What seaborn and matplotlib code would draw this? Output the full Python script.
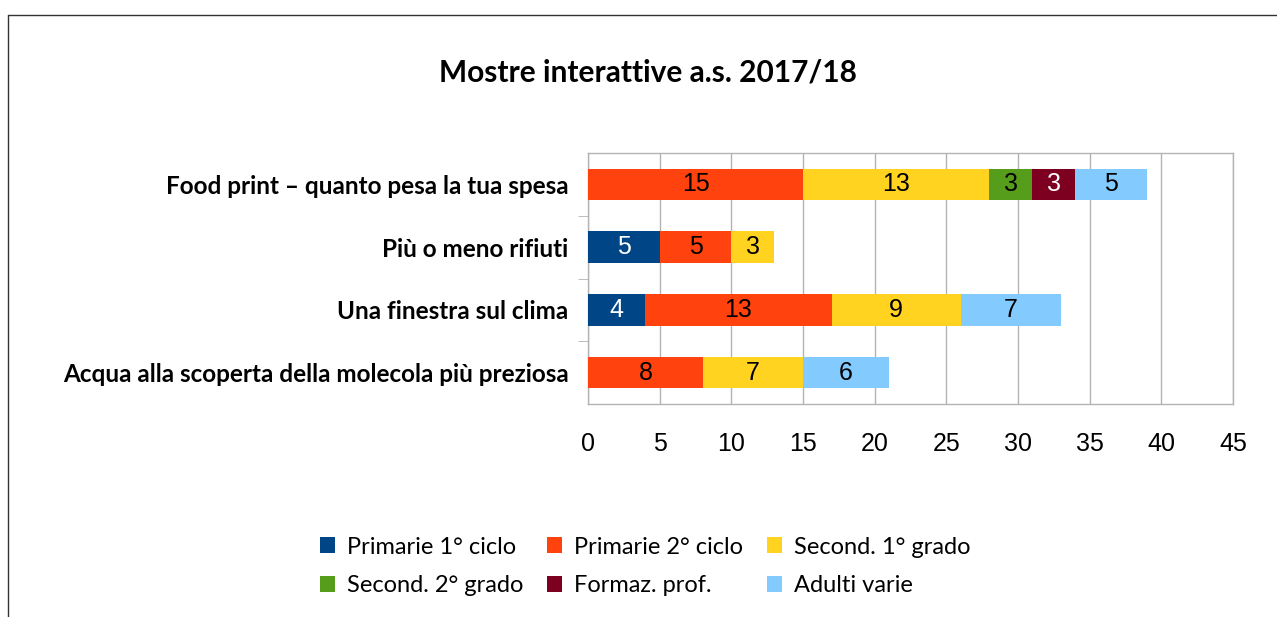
import matplotlib
matplotlib.use("Agg")
import matplotlib.pyplot as plt
from matplotlib.patches import Patch
from matplotlib.lines import Line2D
import seaborn as sns
import pandas as pd
import numpy as np

# Dati
mostre = [
    "Food print – quanto pesa la tua spesa",
    "Più o meno rifiuti",
    "Una finestra sul clima",
    "Acqua alla scoperta della molecola più preziosa",
]
serie = ["Primarie 1° ciclo", "Primarie 2° ciclo", "Second. 1° grado",
         "Second. 2° grado", "Formaz. prof.", "Adulti varie"]
primarie_1 = [0, 5, 4, 0]
primarie_2 = [15, 5, 13, 8]
second_1 = [13, 3, 9, 7]
second_2 = [3, 0, 0, 0]
formaz_prof = [3, 0, 0, 0]
adulti = [5, 0, 7, 6]
colori = ["#004586", "#ff420e", "#ffd320", "#579d1c", "#7e0021", "#83caff"]
colori_testo = ["white", "black", "black", "black", "white", "black"]

valori = np.array([primarie_1, primarie_2, second_1, second_2, formaz_prof, adulti])
cumulati = valori.cumsum(axis=0)

sns.set_style("white")
plt.rcParams["font.family"] = ["Liberation Sans", "DejaVu Sans"]
plt.rcParams["text.color"] = "black"
plt.rcParams["xtick.color"] = "black"
plt.rcParams["ytick.color"] = "black"

fig = plt.figure(figsize=(12.77, 6.17), dpi=100)
ax = fig.add_axes([0.4605, 0.3452, 0.505, 0.4068])

# barre impilate: si disegnano i cumulati dal più grande al più piccolo
for i in range(len(serie) - 1, -1, -1):
    df = pd.DataFrame({"mostra": mostre, "valore": cumulati[i]})
    sns.barplot(data=df, x="valore", y="mostra", orient="h", color=colori[i],
                saturation=1, width=0.5, linewidth=0, ax=ax, zorder=3)

# etichette dei valori
for i in range(len(serie)):
    for j in range(len(mostre)):
        v = valori[i, j]
        if v > 0:
            ax.text(cumulati[i, j] - v / 2, j, str(v), ha="center", va="center",
                    fontsize=18, color=colori_testo[i], zorder=4)

ax.set_xlim(0, 45)
ax.set_ylim(3.5, -0.5)
ax.set_xticks(range(0, 46, 5))
ax.set_xlabel("")
ax.set_ylabel("")
ax.grid(axis="x", color="#b3b3b3", linewidth=1, zorder=0)
ax.grid(axis="y", visible=False)
for s in ax.spines.values():
    s.set_color("#b3b3b3")
    s.set_linewidth(1)
ax.tick_params(axis="x", length=10, color="#b3b3b3", labelcolor="black", labelsize=18, pad=10)
ax.tick_params(axis="y", which="major", length=0, pad=14, labelcolor="black")
ax.set_yticks([0.5, 1.5, 2.5], minor=True)
ax.tick_params(axis="y", which="minor", length=7, color="#b3b3b3", left=True)
for lab in ax.get_yticklabels():
    lab.set_fontfamily(["Lato", "DejaVu Sans"])
    lab.set_fontweight("bold")
    lab.set_fontsize(17.5)

fig.text(0.507, 0.882, "Mostre interattive a.s. 2017/18", ha="center", va="center",
         fontsize=21.5, fontweight="bold", family=["Lato", "DejaVu Sans"])

# legenda (ordine per righe)
handles = [Patch(facecolor=c, edgecolor="none") for c in colori]
ordine = [0, 3, 1, 4, 2, 5]
fig.legend([handles[k] for k in ordine], [serie[k] for k in ordine],
           loc="center", bbox_to_anchor=(0.505, 0.082), ncol=3, frameon=False,
           prop={"family": ["Lato", "DejaVu Sans"], "size": 17},
           handlelength=0.65, handleheight=0.65, handletextpad=0.5,
           columnspacing=1.0, labelspacing=0.75)

# cornice esterna
fig.add_artist(Line2D([8 / 1277, 1], [1 - 15 / 617, 1 - 15 / 617], color="#333333", linewidth=1))
fig.add_artist(Line2D([8 / 1277, 8 / 1277], [0, 1 - 15 / 617], color="#333333", linewidth=1))

fig.savefig("out.png", dpi=100)
